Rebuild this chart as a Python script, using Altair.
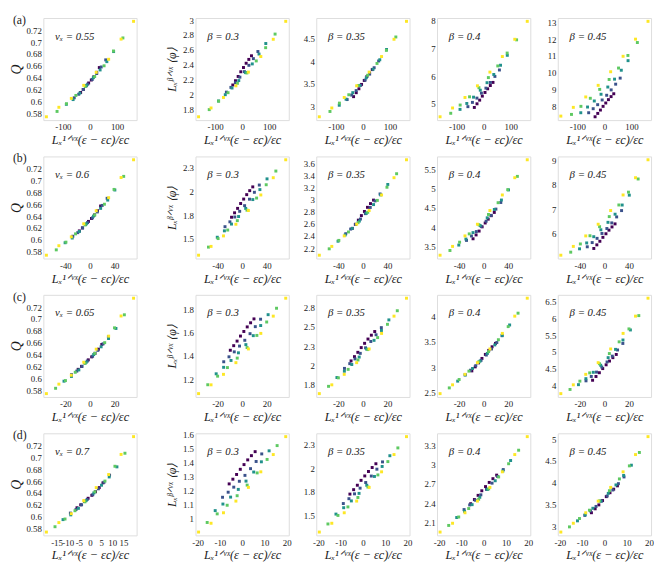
import altair as alt
import pandas as pd

# ---------------- data ----------------
L_SIZES = [96, 128, 160, 192, 224]
COLORS = ["#440154", "#3b528b", "#21918c", "#5ec962", "#fde725"]
# reduced distances (eps - eps_c)/eps_c of the 8 simulated points
EPS = [-0.00859, -0.00613, -0.00368, -0.00123, 0.00123, 0.00368, 0.00613, 0.00859]

# Q, first column
Q_96 = [0.615, 0.620, 0.626, 0.631, 0.636, 0.642, 0.649, 0.657]
Q_128 = [0.606, 0.612, 0.620, 0.629, 0.637, 0.647, 0.658, 0.670]
Q_160 = [0.595, 0.603, 0.614, 0.627, 0.640, 0.653, 0.667, 0.684]
Q_192 = [0.583, 0.596, 0.610, 0.625, 0.642, 0.660, 0.685, 0.707]
Q_224 = [0.574, 0.590, 0.605, 0.627, 0.649, 0.671, 0.705, 0.735]

# L^(beta/nu) <phi>, beta = 0.45 (reference panel)
YREF_96 = [7.38, 7.58, 7.78, 8.00, 8.20, 8.40, 8.58, 8.75]
YREF_128 = [7.62, 7.86, 8.10, 8.38, 8.66, 8.98, 9.32, 9.68]
YREF_160 = [7.62, 7.96, 8.32, 8.72, 9.15, 9.62, 10.15, 10.72]
YREF_192 = [7.52, 8.00, 8.48, 9.01, 9.60, 10.28, 11.03, 11.80]
YREF_224 = [7.42, 7.94, 8.56, 9.25, 10.06, 10.98, 12.00, 13.06]
REF_BETA, REF_NU = 0.45, 0.55

NU = [0.55, 0.6, 0.65, 0.7]
BETA = [0.3, 0.35, 0.4, 0.45]
ROW_LABELS = ["(a)", "(b)", "(c)", "(d)"]

X_TICKS = [
    [[-100, 0, 100]] * 5,
    [[-40, 0, 40]] * 5,
    [[-20, 0, 20]] * 5,
    [[-15, -10, -5, 0, 5, 10, 15]] + [[-20, -10, 0, 10, 20]] * 4,
]
Q_TICKS = [0.58, 0.6, 0.62, 0.64, 0.66, 0.68, 0.7, 0.72]
Y_TICKS = [
    [Q_TICKS, [1.8, 2, 2.2, 2.4, 2.6, 2.8, 3], [3, 3.5, 4, 4.5, 5], [5, 6, 7, 8], [8, 9, 10, 11, 12, 13]],
    [Q_TICKS, [1.5, 1.75, 2, 2.25], [2.2, 2.4, 2.6, 2.8, 3, 3.2, 3.4, 3.6], [3.5, 4, 4.5, 5, 5.5], [6, 7, 8, 9]],
    [Q_TICKS, [1.2, 1.4, 1.6, 1.8], [1.75, 2, 2.25, 2.5, 2.75], [2.5, 3, 3.5, 4], [4, 4.5, 5, 5.5, 6, 6.5]],
    [Q_TICKS, [1, 1.1, 1.2, 1.3, 1.4, 1.5, 1.6], [1.5, 1.75, 2, 2.25], [2.1, 2.4, 2.7, 3, 3.3], [3, 3.5, 4, 4.5, 5]],
]

Q_ALL = [Q_96, Q_128, Q_160, Q_192, Q_224]
YREF_ALL = [YREF_96, YREF_128, YREF_160, YREF_192, YREF_224]

# ---------------- style ----------------
SERIF = "Liberation Serif"
W, H = 95, 104
XTITLE = "Lₓ¹ᐟᵛˣ(ε − εc)/εc"
YTITLE_PHI = "Lₓᵝᐟᵛˣ ⟨φ⟩"
FRAME = "#a8a8a8"
INK = "#1a1a1a"
LBL = 9
LABEL_EXPR = "replace(format(datum.value, '~r'), '\u2212', '-')"


def panel_df(r, c):
    nu = NU[r]
    recs = []
    for L, q, yref in zip(L_SIZES, Q_ALL, YREF_ALL):
        for e, qv, yv in zip(EPS, q, yref):
            x = L ** (1.0 / nu) * e
            if c == 0:
                y = qv
            else:
                phi = yv / L ** (REF_BETA / REF_NU)
                y = phi * L ** (BETA[c - 1] / nu)
            recs.append({"x": x, "y": y, "L": str(L)})
    return pd.DataFrame(recs)


def padded(lo, hi, f=0.035):
    d = (hi - lo) * f
    return [lo - d, hi + d]


def panel(r, c):
    df = panel_df(r, c)
    xdom = padded(df.x.min(), df.x.max())
    ydom = padded(df.y.min(), df.y.max())
    yaxis_kw = dict(
        values=Y_TICKS[r][c], format="~r", labelFont=SERIF, labelFontSize=LBL,
        labelColor=INK, ticks=False, domain=False, grid=False,
        labelPadding=2, labelOverlap=False,
    )
    if c == 0:
        yaxis_kw.update(title="Q", titleFont=SERIF, titleFontStyle="italic",
                        titleFontWeight="normal", titleColor=INK,
                        titleFontSize=14, titlePadding=3)
    elif c == 1:
        yaxis_kw.update(title=YTITLE_PHI, titleFont=SERIF, titleFontStyle="italic",
                        titleFontWeight="normal", titleColor=INK,
                        titleFontSize=12, titlePadding=4)
    else:
        yaxis_kw.update(title=None)
    pts = alt.Chart(df).mark_square(size=9, opacity=1).encode(
        x=alt.X(
            "x:Q",
            scale=alt.Scale(domain=xdom, nice=False, zero=False),
            axis=alt.Axis(
                values=X_TICKS[r][c], labelExpr=LABEL_EXPR, title=XTITLE,
                labelFont=SERIF, labelFontSize=LBL, labelColor=INK,
                titleFont=SERIF, titleFontStyle="italic", titleFontWeight="normal",
                titleFontSize=12.5, titleColor=INK, titlePadding=2,
                labelPadding=3, ticks=False, domain=False, grid=False,
                labelOverlap=False,
            ),
        ),
        y=alt.Y("y:Q", scale=alt.Scale(domain=ydom, nice=False, zero=False),
                axis=alt.Axis(**yaxis_kw)),
        color=alt.Color("L:N", scale=alt.Scale(domain=[str(v) for v in L_SIZES], range=COLORS),
                        legend=None),
    )
    if c == 0:
        ann = f"νₓ = {NU[r]:g}"
    else:
        ann = f"β = {BETA[c - 1]:g}"
    txt = alt.Chart(pd.DataFrame({"t": [ann]})).mark_text(
        align="left", baseline="alphabetic", font=SERIF, fontStyle="italic",
        fontSize=11, color=INK,
    ).encode(x=alt.value(12), y=alt.value(22), text="t:N")
    layers = [pts, txt]
    if c == 0:
        lab = alt.Chart(pd.DataFrame({"t": [ROW_LABELS[r]]})).mark_text(
            align="left", baseline="top", font=SERIF, fontSize=12, color=INK,
        ).encode(x=alt.value(-31), y=alt.value(-3), text="t:N")
        layers.append(lab)
    return alt.layer(*layers).properties(width=W, height=H)


def spacer():
    return alt.Chart(pd.DataFrame({"a": [0]})).mark_point(opacity=0).encode(
        x=alt.value(0), y=alt.value(0)
    ).properties(width=4, height=H, view=alt.ViewBackground(strokeOpacity=0))


rows = []
for r in range(4):
    panels = [panel(r, 0), spacer()] + [panel(r, c) for c in range(1, 5)]
    rows.append(alt.hconcat(*panels, spacing=28, bounds="flush"))

chart = alt.vconcat(*rows, spacing=5).properties(
    padding={"left": 0, "top": 0, "right": 0, "bottom": 0}
).configure_view(stroke=FRAME, strokeWidth=1).configure(background="white")

chart.save("out.html", embed_options={"renderer": "svg", "actions": False})
